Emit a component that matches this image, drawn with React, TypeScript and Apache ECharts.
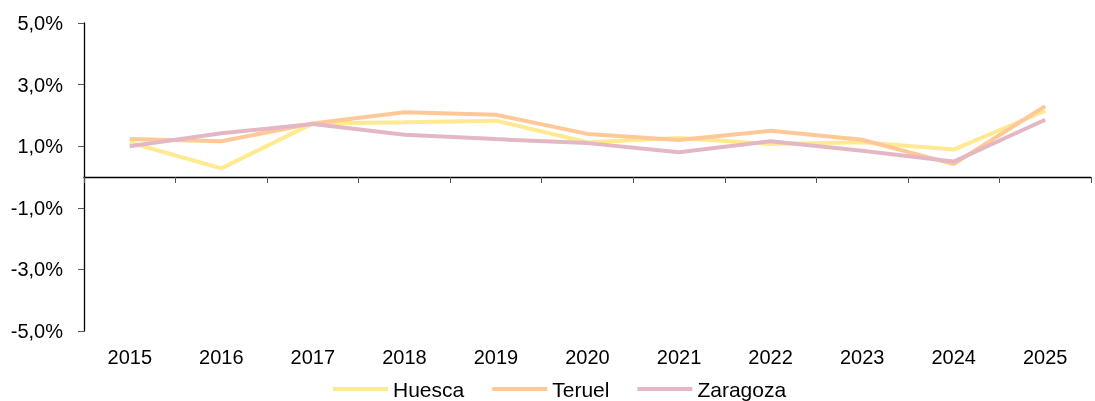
import React, { useEffect, useRef } from "react";
import * as echarts from "echarts";

const years = ["2015", "2016", "2017", "2018", "2019", "2020", "2021", "2022", "2023", "2024", "2025"];
const huesca = [1.12, 0.28, 1.74, 1.78, 1.83, 1.13, 1.27, 1.07, 1.13, 0.89, 2.15];
const teruel = [1.23, 1.16, 1.74, 2.1, 2.02, 1.4, 1.2, 1.5, 1.21, 0.42, 2.3];
const zaragoza = [1.0, 1.42, 1.72, 1.37, 1.23, 1.1, 0.8, 1.16, 0.85, 0.5, 1.86];

const seriesDefs = [
  { name: "Huesca", data: huesca, color: "#FFE991" },
  { name: "Teruel", data: teruel, color: "#FFC896" },
  { name: "Zaragoza", data: zaragoza, color: "#E3B8C4" },
];

export default function App() {
  const ref = useRef<HTMLDivElement>(null);
  useEffect(() => {
    if (!ref.current) return;
    const chart = echarts.init(ref.current, null, { renderer: "svg" });
    const font = "Liberation Sans, Arial, sans-serif";
    chart.setOption({
      animation: false,
      textStyle: { fontFamily: font },
      grid: { left: 84, right: 4, top: 23, bottom: 70 },
      legend: {
        top: 377,
        left: 333,
        padding: 0,
        itemWidth: 55,
        itemHeight: 4,
        itemGap: 28,
        icon: "rect",
        textStyle: { fontSize: 21, color: "#000", fontFamily: font, lineHeight: 24 },
        data: seriesDefs.map((s) => s.name),
      },
      xAxis: [
        {
          type: "category",
          data: years,
          position: "bottom",
          axisLine: { onZero: true, lineStyle: { color: "#000", width: 1.3 } },
          axisTick: { show: true, length: 6, lineStyle: { color: "#555" } },
          axisLabel: { show: false },
        },
        {
          type: "category",
          data: years,
          position: "bottom",
          axisLine: { show: false, onZero: false },
          axisTick: { show: false },
          axisLabel: { fontSize: 20, color: "#000", margin: 16, fontFamily: font },
        },
      ],
      yAxis: {
        type: "value",
        min: -5,
        max: 5,
        interval: 2,
        axisLine: { show: true, lineStyle: { color: "#000", width: 1.3 } },
        axisTick: { show: true, length: 6, lineStyle: { color: "#555" } },
        splitLine: { show: false },
        axisLabel: {
          fontSize: 20,
          color: "#000",
          margin: 21,
          fontFamily: font,
          formatter: (v: number) => v.toFixed(1).replace(".", ",") + "%",
        },
      },
      series: seriesDefs.map((s) => ({
        name: s.name,
        type: "line",
        xAxisIndex: 0,
        data: s.data,
        symbol: "none",
        lineStyle: { color: s.color, width: 4 },
        itemStyle: { color: s.color },
      })),
    });
    return () => chart.dispose();
  }, []);
  return <div ref={ref} style={{ position: "fixed", left: 0, top: 0, width: 1095, height: 401 }} />;
}
